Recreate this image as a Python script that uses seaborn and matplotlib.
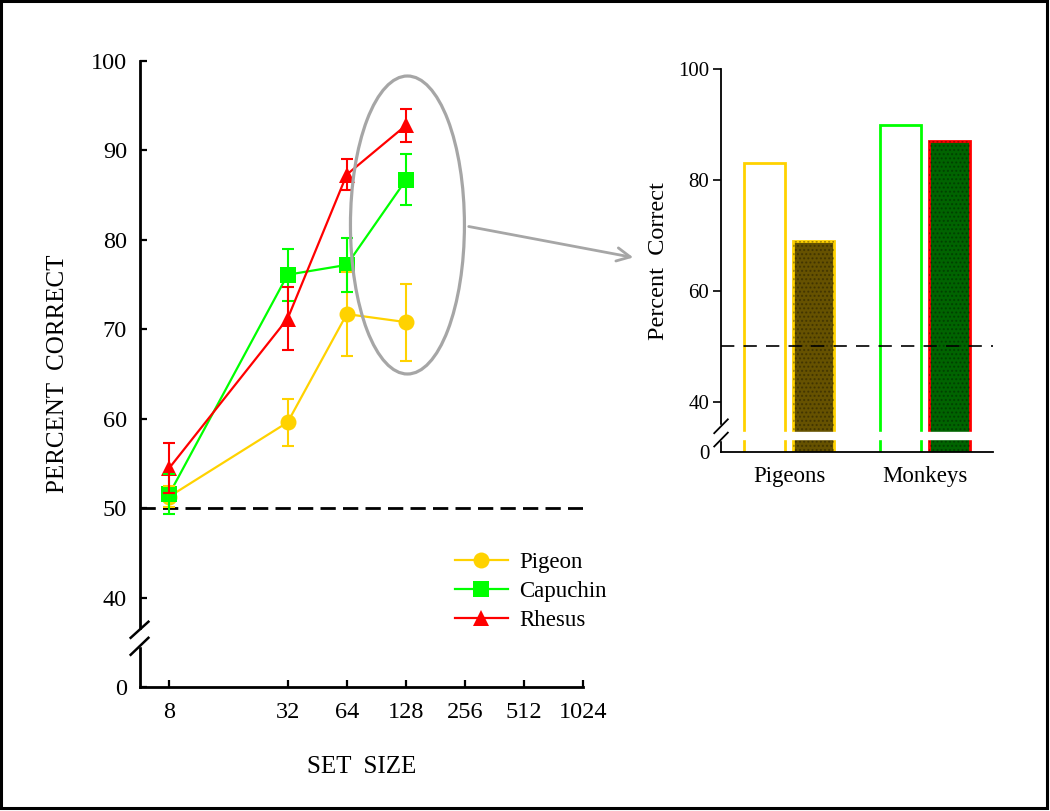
import matplotlib
matplotlib.use("Agg")
import matplotlib.pyplot as plt
from matplotlib.patches import Ellipse, Rectangle, FancyArrowPatch
from matplotlib.lines import Line2D
from matplotlib.ticker import NullLocator
import seaborn as sb
import pandas as pd
import numpy as np

# left panel: percent correct by set size
set_sizes = [8, 32, 64, 128]
species = ["Pigeon", "Capuchin", "Rhesus"]
pigeon = [51.3, 59.6, 71.7, 70.8]
pigeon_err = [1.2, 2.6, 4.7, 4.3]
capuchin = [51.6, 76.1, 77.2, 86.7]
capuchin_err = [2.2, 2.9, 3.0, 2.85]
rhesus = [54.5, 71.2, 87.3, 92.8]
rhesus_err = [2.8, 3.5, 1.7, 1.85]
x_ticks = [8, 32, 64, 128, 256, 512, 1024]
left_yticks = [40, 50, 60, 70, 80, 90, 100]

# right panel: transfer bars
groups = ["Pigeons", "Monkeys"]
first_bar = [83, 90]
second_bar = [69, 87]
right_yticks = [40, 60, 80, 100]

chance = 50

colors = {"Pigeon": "#FFD200", "Capuchin": "#00FF00", "Rhesus": "#FF0000"}
markers = {"Pigeon": "o", "Capuchin": "s", "Rhesus": "^"}

plt.rcParams['font.family'] = ['Liberation Serif', 'DejaVu Serif']

fig = plt.figure(figsize=(10.5, 8.11), dpi=100)
ax = fig.add_axes([0.1329, 0.1529, 0.4227, 0.7719])
ax2 = fig.add_axes([0.6867, 0.4423, 0.259, 0.4723])

# ---- left panel ----
df = pd.DataFrame({
    "set_size": set_sizes * 3,
    "percent": pigeon + capuchin + rhesus,
    "species": np.repeat(species, len(set_sizes)),
})
errs = {"Pigeon": pigeon_err, "Capuchin": capuchin_err, "Rhesus": rhesus_err}

ax.axhline(chance, color="black", lw=2, dashes=(5.5, 2.6), zorder=1)
sb.lineplot(data=df, x="set_size", y="percent", hue="species", style="species",
            markers=markers, dashes=False, palette=colors, hue_order=species,
            markersize=11.5, markeredgewidth=0, linewidth=1.6, legend=False, ax=ax,
            zorder=3)
for sp in species:
    vals = df[df.species == sp].percent.values
    ax.errorbar(set_sizes, vals, yerr=errs[sp], fmt="none", ecolor=colors[sp],
                elinewidth=1.5, capsize=4, capthick=1.5, zorder=3)

ax.set_xscale("log", base=2)
ax.set_xlim(5.64, 1024)
ax.set_xticks(x_ticks)
ax.set_xticklabels([str(v) for v in x_ticks])
ax.xaxis.set_minor_locator(NullLocator())
ax.set_ylim(30, 100)
ax.set_yticks([30] + left_yticks)
ax.set_yticklabels(["0"] + [str(v) for v in left_yticks])
ax.tick_params(axis="both", direction="in", length=5, width=1.6, labelsize=17.5)
ax.tick_params(axis="x", pad=11)
ax.tick_params(axis="y", pad=9)
for s in ["top", "right"]:
    ax.spines[s].set_visible(False)
for s in ["left", "bottom"]:
    ax.spines[s].set_linewidth(2)
ax.set_xlabel("SET  SIZE", fontsize=18)
ax.set_ylabel("PERCENT  CORRECT", fontsize=18)
ax.xaxis.set_label_coords(0.5, -0.11)
ax.yaxis.set_label_coords(-0.16, 0.5)

# axis break on left panel
ytr = ax.get_yaxis_transform()
ax.add_patch(Rectangle((-0.012, 34.55), 0.024, 1.85, transform=ytr, color="white",
                       clip_on=False, zorder=5))
ax.plot([-0.02, 0.02], [35.5, 37.3], transform=ytr, color="black", lw=1.8,
        clip_on=False, zorder=6)
ax.plot([-0.02, 0.02], [33.6, 35.5], transform=ytr, color="black", lw=1.8,
        clip_on=False, zorder=6)

handles = [Line2D([], [], color=colors[sp], marker=markers[sp], markersize=11.5,
                  markeredgewidth=0, lw=1.6) for sp in species]
ax.legend(handles, species, loc="upper left", bbox_to_anchor=(455 / 1050, 1 - 552 / 811),
          bbox_transform=fig.transFigure, frameon=False, fontsize=16.5,
          handlelength=2.3, handletextpad=0.5, labelspacing=0.35,
          borderpad=0, borderaxespad=0)

# ellipse and arrow
ax.add_patch(Ellipse((0.6036, 0.738), 0.2568, 0.476, transform=ax.transAxes,
                     fill=False, ec="#A6A6A6", lw=2.3, clip_on=False, zorder=4))
fig.add_artist(FancyArrowPatch((466 / 1050, 1 - 226 / 811), (636 / 1050, 1 - 258 / 811),
                               transform=fig.transFigure, arrowstyle="->",
                               mutation_scale=24, color="#A6A6A6", lw=2))

# ---- right panel ----
df2 = pd.DataFrame({
    "group": groups * 2,
    "value": first_bar + second_bar,
    "cond": ["first"] * 2 + ["second"] * 2,
})
sb.barplot(data=df2, x="group", y="value", hue="cond", order=groups,
           width=0.71, gap=0.15, legend=False, ax=ax2)
faces = [["white", "white"], ["#665200", "#006400"]]
edges = [["#FFD200", "#00FF00"], ["#FFD200", "#FF0000"]]
for ci, cont in enumerate(ax2.containers):
    for bi, bar in enumerate(cont):
        bar.set_facecolor(faces[ci][bi])
        bar.set_edgecolor(edges[ci][bi])
        bar.set_linewidth(2)
        if ci == 1:
            ax2.add_patch(Rectangle(bar.get_xy(), bar.get_width(), bar.get_height(),
                                    fill=False, hatch="....", lw=0,
                                    edgecolor=(0, 0, 0, 0.3), zorder=2))

ax2.axhline(chance, color="black", lw=1.2, dashes=(8, 5.5), zorder=3)
ax2.set_xlim(-0.5, 1.5)
ax2.set_ylim(30.85, 100)
ax2.set_yticks([30.85] + right_yticks)
ax2.set_yticklabels(["0"] + [str(v) for v in right_yticks])
ax2.yaxis.get_major_ticks()[0].tick1line.set_visible(False)
ax2.tick_params(axis="y", direction="out", length=5.5, width=1.2, labelsize=15, pad=3)
ax2.tick_params(axis="x", length=0, labelsize=16.5, pad=10)
for s in ["top", "right"]:
    ax2.spines[s].set_visible(False)
for s in ["left", "bottom"]:
    ax2.spines[s].set_linewidth(1.3)
ax2.set_xlabel("")
ax2.set_ylabel("Percent  Correct", fontsize=17.5)
ax2.yaxis.set_label_coords(-0.19, 0.5)

# axis break on right panel
ytr2 = ax2.get_yaxis_transform()
ax2.add_patch(Rectangle((0, 33.3), 1, 1.2, transform=ytr2, color="white",
                        clip_on=False, zorder=4))
ax2.add_patch(Rectangle((-0.012, 33.0), 0.024, 2.7, transform=ytr2, color="white",
                        clip_on=False, zorder=5))
ax2.plot([-0.025, 0.025], [34.3, 36.8], transform=ytr2, color="black", lw=1.3,
         clip_on=False, zorder=6)
ax2.plot([-0.025, 0.025], [31.9, 34.4], transform=ytr2, color="black", lw=1.3,
         clip_on=False, zorder=6)

# figure border
fig.add_artist(Rectangle((0.0014, 0.0037), 0.9955, 0.9945, transform=fig.transFigure,
                         fill=False, ec="black", lw=2.2))

plt.savefig("out.png", dpi=100)
plt.close()
